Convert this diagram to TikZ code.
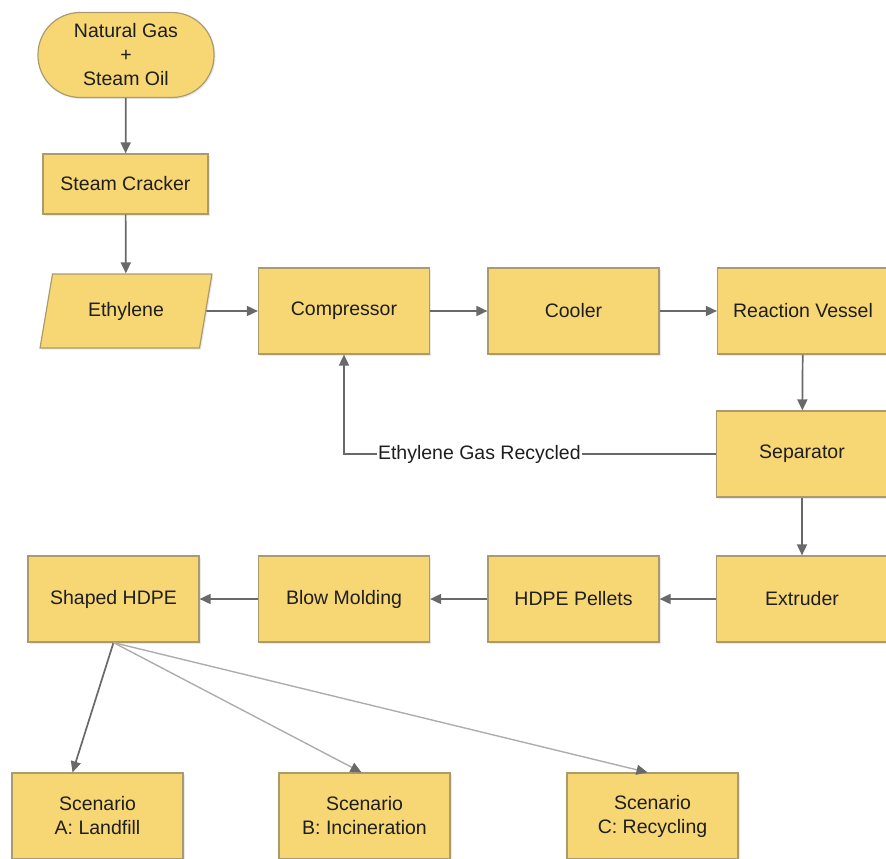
\documentclass[tikz,border=0pt]{standalone}
\usepackage{fontspec}
\setmainfont{Liberation Sans}
\usetikzlibrary{shapes.geometric,arrows.meta,calc,shadows}
\definecolor{boxfill}{RGB}{247,214,116}
\definecolor{boxline}{RGB}{170,155,110}
\definecolor{flow}{RGB}{105,105,105}
\definecolor{flowlight}{RGB}{175,172,172}
\definecolor{txt}{RGB}{30,30,30}
\tikzset{
  base/.style={draw=boxline, fill=boxfill, line width=1.2pt, text=txt,
    align=center, font=\fontsize{19.5}{24}\selectfont, inner sep=2pt,
    drop shadow={opacity=0.18, shadow xshift=1.5pt, shadow yshift=-1.5pt}},
  procbox/.style={base, rectangle, minimum width=171pt, minimum height=86pt},
  startbox/.style={base, rectangle, rounded corners=42pt, minimum width=176pt, minimum height=85pt},
  iobox/.style={base, trapezium, trapezium left angle=73, trapezium right angle=107,
    trapezium stretches=true, minimum width=172pt, minimum height=74pt},
  flowarrow/.style={draw=flow, line width=1.7pt, -{Triangle[length=11pt,width=10pt]}},
  lightarrow/.style={draw=flowlight, line width=1.4pt, -{Triangle[length=11pt,width=10pt,fill=flow,color=flow]}},
}
\begin{document}
\begin{tikzpicture}[x=1pt,y=-1pt]
\useasboundingbox (0,0) rectangle (886,859);
\clip (0,0) rectangle (886,859);

% upstream chain
\node[startbox] (ng) at (126,55) {Natural Gas\\+\\Steam Oil};
\node[procbox, minimum width=165pt, minimum height=60pt] (crack) at (125.5,184) {Steam Cracker};
\node[iobox] (eth) at (126,311) {Ethylene};

% polymerisation line
\node[procbox] (comp) at (344,311) {Compressor};
\node[procbox] (cool) at (573.5,311) {Cooler};
\node[procbox] (rv) at (803,311) {Reaction Vessel};
\node[procbox] (sep) at (802,454) {Separator};
\node[procbox] (ext) at (802,599) {Extruder};
\node[procbox] (pel) at (573.5,599) {HDPE Pellets};
\node[procbox] (blow) at (344,599) {Blow Molding};
\node[procbox] (shp) at (113.5,599) {Shaped HDPE};

% end-of-life scenarios
\node[procbox] (sa) at (97.5,816) {Scenario\\A: Landfill};
\node[procbox] (sb) at (364.5,816) {Scenario\\B: Incineration};
\node[procbox] (scc) at (652.5,816) {Scenario\\C: Recycling};

% connectors
\draw[flowarrow] (ng) -- (crack);
\draw[flowarrow] (crack) -- (eth);
\draw[flowarrow] (eth) -- (comp);
\draw[flowarrow] (comp) -- (cool);
\draw[flowarrow] (cool) -- (rv);
\draw[flowarrow] (rv) -- (sep);
\draw[flowarrow] (sep) -- (ext);
\draw[flowarrow] (ext) -- (pel);
\draw[flowarrow] (pel) -- (blow);
\draw[flowarrow] (blow) -- (shp);

% recycled gas loop
\coordinate (bend) at (comp.south |- sep.west);
\draw[flowarrow] (sep.west) -- node[pos=0.636, fill=white, inner sep=1pt, text=txt,
  font=\fontsize{19.5}{24}\selectfont] {Ethylene Gas Recycled} (bend) -- (comp.south);

% branches to scenarios
\draw[flowarrow] (shp.south) -- ($(sa.north)+(-25,0)$);
\draw[lightarrow] (shp.south) -- ($(sb.north)+(-3,0)$);
\draw[lightarrow] (shp.south) -- ($(scc.north)+(-5,0)$);
\end{tikzpicture}
\end{document}
